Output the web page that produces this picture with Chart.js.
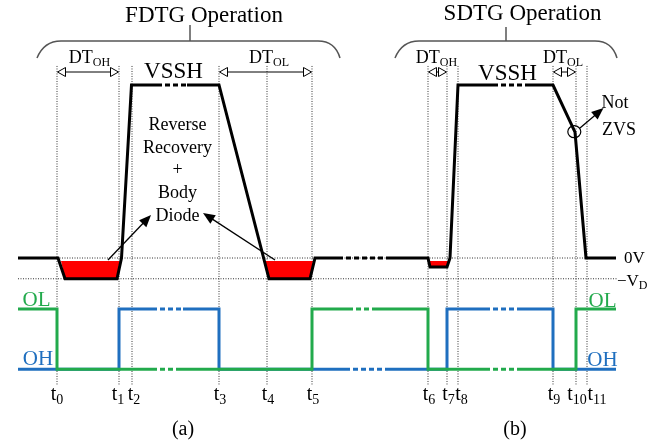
<!DOCTYPE html>
<html>
<head>
<meta charset="utf-8">
<script src="https://cdn.jsdelivr.net/npm/chart.js@4.4.0/dist/chart.umd.min.js"></script>
<style>
  html, body { margin: 0; padding: 0; background: #fff; }
  canvas { display: block; }
</style>
</head>
<body>
<canvas id="timing" width="669" height="444"></canvas>
<script>
// levels (volts, arbitrary units) and logic levels
const VSSH = 10;
const VD = 1.2;
const DIP = 0.52;      // small dip in SDTG
const RED_TOP = -0.17; // top edge of the red diode-conduction area

// time instants t0 .. t11
const tNames = ['0', '1', '2', '3', '4', '5', '6', '7', '8', '9', '10', '11'];
const tX = [57, 119, 132, 219, 267, 312, 428, 447, 458, 553, 576, 587];
const tLabelShift = [0, -1, 2, 1, 1, 1, 1, 1.5, 3.5, 1, 1, 10];

// switch-node voltage
const waveX = [18, 58, 65, 117, 121.5, 131.5, 162, 187, 219, 269, 310, 315, 343, 387, 428, 430, 447, 450, 458, 498, 530, 553, 575, 586, 616];
const waveV = [0, 0, -VD, -VD, 0, VSSH, VSSH, VSSH, VSSH, -VD, -VD, 0, 0, 0, 0, -DIP, -DIP, 0, VSSH, VSSH, VSSH, VSSH, 7.28, 0, 0];
const waveBreaks = [[162, 187], [343, 387], [498, 530]];

// gate signals (1 = on)
const olX = [18, 57, 57, 157, 180, 312, 312, 353, 373, 428, 428, 490, 517, 576, 576, 616];
const olV = [1, 1, 0, 0, 0, 0, 1, 1, 1, 1, 0, 0, 0, 0, 1, 1];
const olBreaks = [[157, 180], [353, 373], [490, 517]];

const ohX = [18, 119, 119, 157, 183, 219, 219, 350, 387, 447, 447, 490, 520, 553, 553, 616];
const ohV = [0, 0, 1, 1, 1, 1, 0, 0, 0, 0, 1, 1, 1, 1, 0, 0];
const ohBreaks = [[157, 183], [350, 387], [490, 520]];

// diode conduction areas
const redAX = [61, 65, 117, 119.5];
const redAV = [RED_TOP, -VD, -VD, RED_TOP];
const redBX = [265, 269, 310, 313];
const redBV = [RED_TOP, -VD, -VD, RED_TOP];
const redCX = [429, 430.5, 447, 448];
const redCV = [RED_TOP, -DIP, -DIP, RED_TOP];

const diodeText = ['Reverse', 'Recovery', '+', 'Body', 'Diode'];

const GREEN = '#22aa4c';
const BLUE = '#1f6fbf';
const GUIDE = '#333';

function pts(xs, ys) {
    return xs.map((x, i) => ({ x: x, y: ys[i] }));
}

function breakDash(breaks, dash) {
    return {
        borderDash: ctx => breaks.some(b => b[0] === ctx.p0.parsed.x && b[1] === ctx.p1.parsed.x) ? dash : undefined,
        borderDashOffset: ctx => breaks.some(b => b[0] === ctx.p0.parsed.x && b[1] === ctx.p1.parsed.x) ? dash[0] : undefined
    };
}

// vertical guide lines, separated by nulls
const guideTop = 11.1, guideBottom = -7.34;
const guidePts = [];
tX.forEach(x => {
    guidePts.push({ x: x, y: guideTop }, { x: x, y: guideBottom }, { x: x, y: null });
});

const serif = '"Liberation Serif", "Times New Roman", serif';
function font(size) { return size + 'px ' + serif; }

function subText(ctx, main, sub, cx, base, size, subSize, color, align) {
    ctx.font = font(size);
    const w1 = ctx.measureText(main).width;
    ctx.font = font(subSize);
    const w2 = ctx.measureText(sub).width;
    const x = align === 'left' ? cx : cx - (w1 + w2) / 2;
    ctx.fillStyle = color;
    ctx.textAlign = 'left';
    ctx.textBaseline = 'alphabetic';
    ctx.font = font(size);
    ctx.fillText(main, x, base);
    ctx.font = font(subSize);
    ctx.fillText(sub, x + w1, base + subSize * 0.25);
}

function text(ctx, s, x, y, size, color, align) {
    ctx.font = font(size);
    ctx.fillStyle = color || '#000';
    ctx.textAlign = align || 'center';
    ctx.textBaseline = 'alphabetic';
    ctx.fillText(s, x, y);
}

function arrowHead(ctx, x0, y0, x1, y1, len, half, open) {
    const a = Math.atan2(y1 - y0, x1 - x0);
    const bx = x1 - len * Math.cos(a), by = y1 - len * Math.sin(a);
    ctx.beginPath();
    ctx.moveTo(x1, y1);
    ctx.lineTo(bx + half * Math.sin(a), by - half * Math.cos(a));
    ctx.lineTo(bx - half * Math.sin(a), by + half * Math.cos(a));
    ctx.closePath();
    if (open) {
        ctx.fillStyle = '#fff';
        ctx.fill();
        ctx.stroke();
    } else {
        ctx.fillStyle = '#000';
        ctx.fill();
    }
}

function arrow(ctx, x0, y0, x1, y1) {
    ctx.strokeStyle = '#000';
    ctx.lineWidth = 1.3;
    const a = Math.atan2(y1 - y0, x1 - x0);
    ctx.beginPath();
    ctx.moveTo(x0, y0);
    ctx.lineTo(x1 - 8 * Math.cos(a), y1 - 8 * Math.sin(a));
    ctx.stroke();
    arrowHead(ctx, x0, y0, x1, y1, 12, 5, false);
}

function dtArrow(ctx, xa, xb, y) {
    ctx.strokeStyle = '#000';
    ctx.lineWidth = 1;
    ctx.beginPath();
    ctx.moveTo(xa + 7, y);
    ctx.lineTo(xb - 7, y);
    ctx.stroke();
    arrowHead(ctx, xb, y, xa + 0.5, y, 8, 4.5, true);
    arrowHead(ctx, xa, y, xb - 0.5, y, 8, 4.5, true);
}

function brace(ctx, x0, x1, y0, yTop, cx, tickTop) {
    ctx.strokeStyle = '#555';
    ctx.lineWidth = 1.5;
    ctx.beginPath();
    ctx.moveTo(x0, y0);
    ctx.quadraticCurveTo(x0 + 7, yTop, x0 + 24, yTop);
    ctx.lineTo(x1 - 22, yTop);
    ctx.quadraticCurveTo(x1 - 5, yTop, x1, y0);
    ctx.moveTo(cx, tickTop);
    ctx.lineTo(cx, yTop);
    ctx.stroke();
}

const annotations = {
    id: 'annotations',
    afterDatasetsDraw(chart) {
        const ctx = chart.ctx;
        const X = v => chart.scales.x.getPixelForValue(v);
        const Y = v => chart.scales.yp.getPixelForValue(v);
        ctx.save();

        text(ctx, 'FDTG Operation', X(204), Y(22), 23);
        text(ctx, 'SDTG Operation', X(522.5), Y(20), 23);
        brace(ctx, X(37), X(340), Y(58), Y(41), X(190), Y(25));
        brace(ctx, X(395), X(617), Y(58), Y(41), X(506), Y(27));

        dtArrow(ctx, X(tX[0]), X(tX[1]), Y(72));
        dtArrow(ctx, X(tX[3]), X(tX[5]), Y(72));
        dtArrow(ctx, X(tX[6]), X(tX[7]), Y(72));
        dtArrow(ctx, X(tX[9]), X(tX[10]), Y(72));
        subText(ctx, 'DT', 'OH', X(89.5), Y(63), 18, 12, '#000');
        subText(ctx, 'DT', 'OL', X(269), Y(63), 18, 12, '#000');
        subText(ctx, 'DT', 'OH', X(436.5), Y(63), 18, 12, '#000');
        subText(ctx, 'DT', 'OL', X(563), Y(63), 18, 12, '#000');

        text(ctx, 'VSSH', X(173.5), Y(78), 23);
        text(ctx, 'VSSH', X(507.5), Y(80), 23);

        const bases = [130, 153, 175, 198, 221];
        diodeText.forEach((s, i) => text(ctx, s, X(177.5), Y(bases[i]), 18));
        arrow(ctx, X(108), Y(260), X(151), Y(215));
        arrow(ctx, X(275), Y(260), X(203), Y(213));

        ctx.strokeStyle = '#000';
        ctx.lineWidth = 1.2;
        ctx.beginPath();
        ctx.ellipse(X(574.3), Y(131.7), 6.5, 6, 0, 0, Math.PI * 2);
        ctx.stroke();
        arrow(ctx, X(580), Y(128), X(603.5), Y(108));
        text(ctx, 'Not', X(615), Y(108), 18);
        text(ctx, 'ZVS', X(619), Y(135), 18);

        text(ctx, '0V', X(624), Y(263), 17, '#000', 'left');
        subText(ctx, '\u2212V', 'D', X(617), Y(286), 17, 12, '#000', 'left');

        text(ctx, 'OL', X(36.5), Y(306), 21, GREEN);
        text(ctx, 'OH', X(38), Y(365), 21, BLUE);
        text(ctx, 'OL', X(602.5), Y(307), 21, GREEN);
        text(ctx, 'OH', X(602.5), Y(366), 21, BLUE);

        tX.forEach((x, i) => subText(ctx, 't', tNames[i], X(x + tLabelShift[i]), Y(400), 20, 14, '#000'));

        text(ctx, '(a)', X(183), Y(435), 20);
        text(ctx, '(b)', X(515), Y(435), 20);
        ctx.restore();
    }
};

const lineBase = { borderCapStyle: 'butt', borderJoinStyle: 'miter', pointRadius: 0, fill: false, tension: 0 };

new Chart(document.getElementById('timing'), {
    type: 'line',
    data: {
        datasets: [
            Object.assign({}, lineBase, {
                label: 'Vsw', data: pts(waveX, waveV), yAxisID: 'y',
                borderColor: '#000', borderWidth: 3, segment: breakDash(waveBreaks, [5, 3])
            }),
            Object.assign({}, lineBase, {
                label: 'OL', data: pts(olX, olV), yAxisID: 'yg',
                borderColor: GREEN, borderWidth: 3, segment: breakDash(olBreaks, [5, 3])
            }),
            Object.assign({}, lineBase, {
                label: 'OH', data: pts(ohX, ohV), yAxisID: 'yg',
                borderColor: BLUE, borderWidth: 3, segment: breakDash(ohBreaks, [5, 3])
            }),
            Object.assign({}, lineBase, {
                label: 'diode A', data: pts(redAX, redAV), yAxisID: 'y',
                borderWidth: 0, backgroundColor: '#ff0000', fill: { value: RED_TOP }
            }),
            Object.assign({}, lineBase, {
                label: 'diode B', data: pts(redBX, redBV), yAxisID: 'y',
                borderWidth: 0, backgroundColor: '#ff0000', fill: { value: RED_TOP }
            }),
            Object.assign({}, lineBase, {
                label: 'diode C', data: pts(redCX, redCV), yAxisID: 'y',
                borderWidth: 0, backgroundColor: '#ff0000', fill: { value: RED_TOP }
            }),
            Object.assign({}, lineBase, {
                label: 'guides', data: guidePts, yAxisID: 'y', spanGaps: false,
                borderColor: GUIDE, borderWidth: 1, borderDash: [1, 1.5]
            }),
            Object.assign({}, lineBase, {
                label: '0V', data: pts([tX[0], tX[11]], [0, 0]), yAxisID: 'y',
                borderColor: GUIDE, borderWidth: 1, borderDash: [1, 1.5]
            }),
            Object.assign({}, lineBase, {
                label: '-VD', data: pts([18, 617], [-VD, -VD]), yAxisID: 'y',
                borderColor: GUIDE, borderWidth: 1, borderDash: [1, 1.5]
            })
        ]
    },
    options: {
        responsive: false,
        animation: false,
        layout: { padding: 0 },
        plugins: { legend: { display: false }, tooltip: { enabled: false } },
        scales: {
            x: { type: 'linear', min: 0, max: 669, display: false },
            y: { min: -10.751, max: 14.913, display: false },
            yg: { min: -1.239, max: 6.124, display: false },
            yp: { min: 0, max: 444, reverse: true, display: false }
        }
    },
    plugins: [annotations]
});
</script>
</body>
</html>
